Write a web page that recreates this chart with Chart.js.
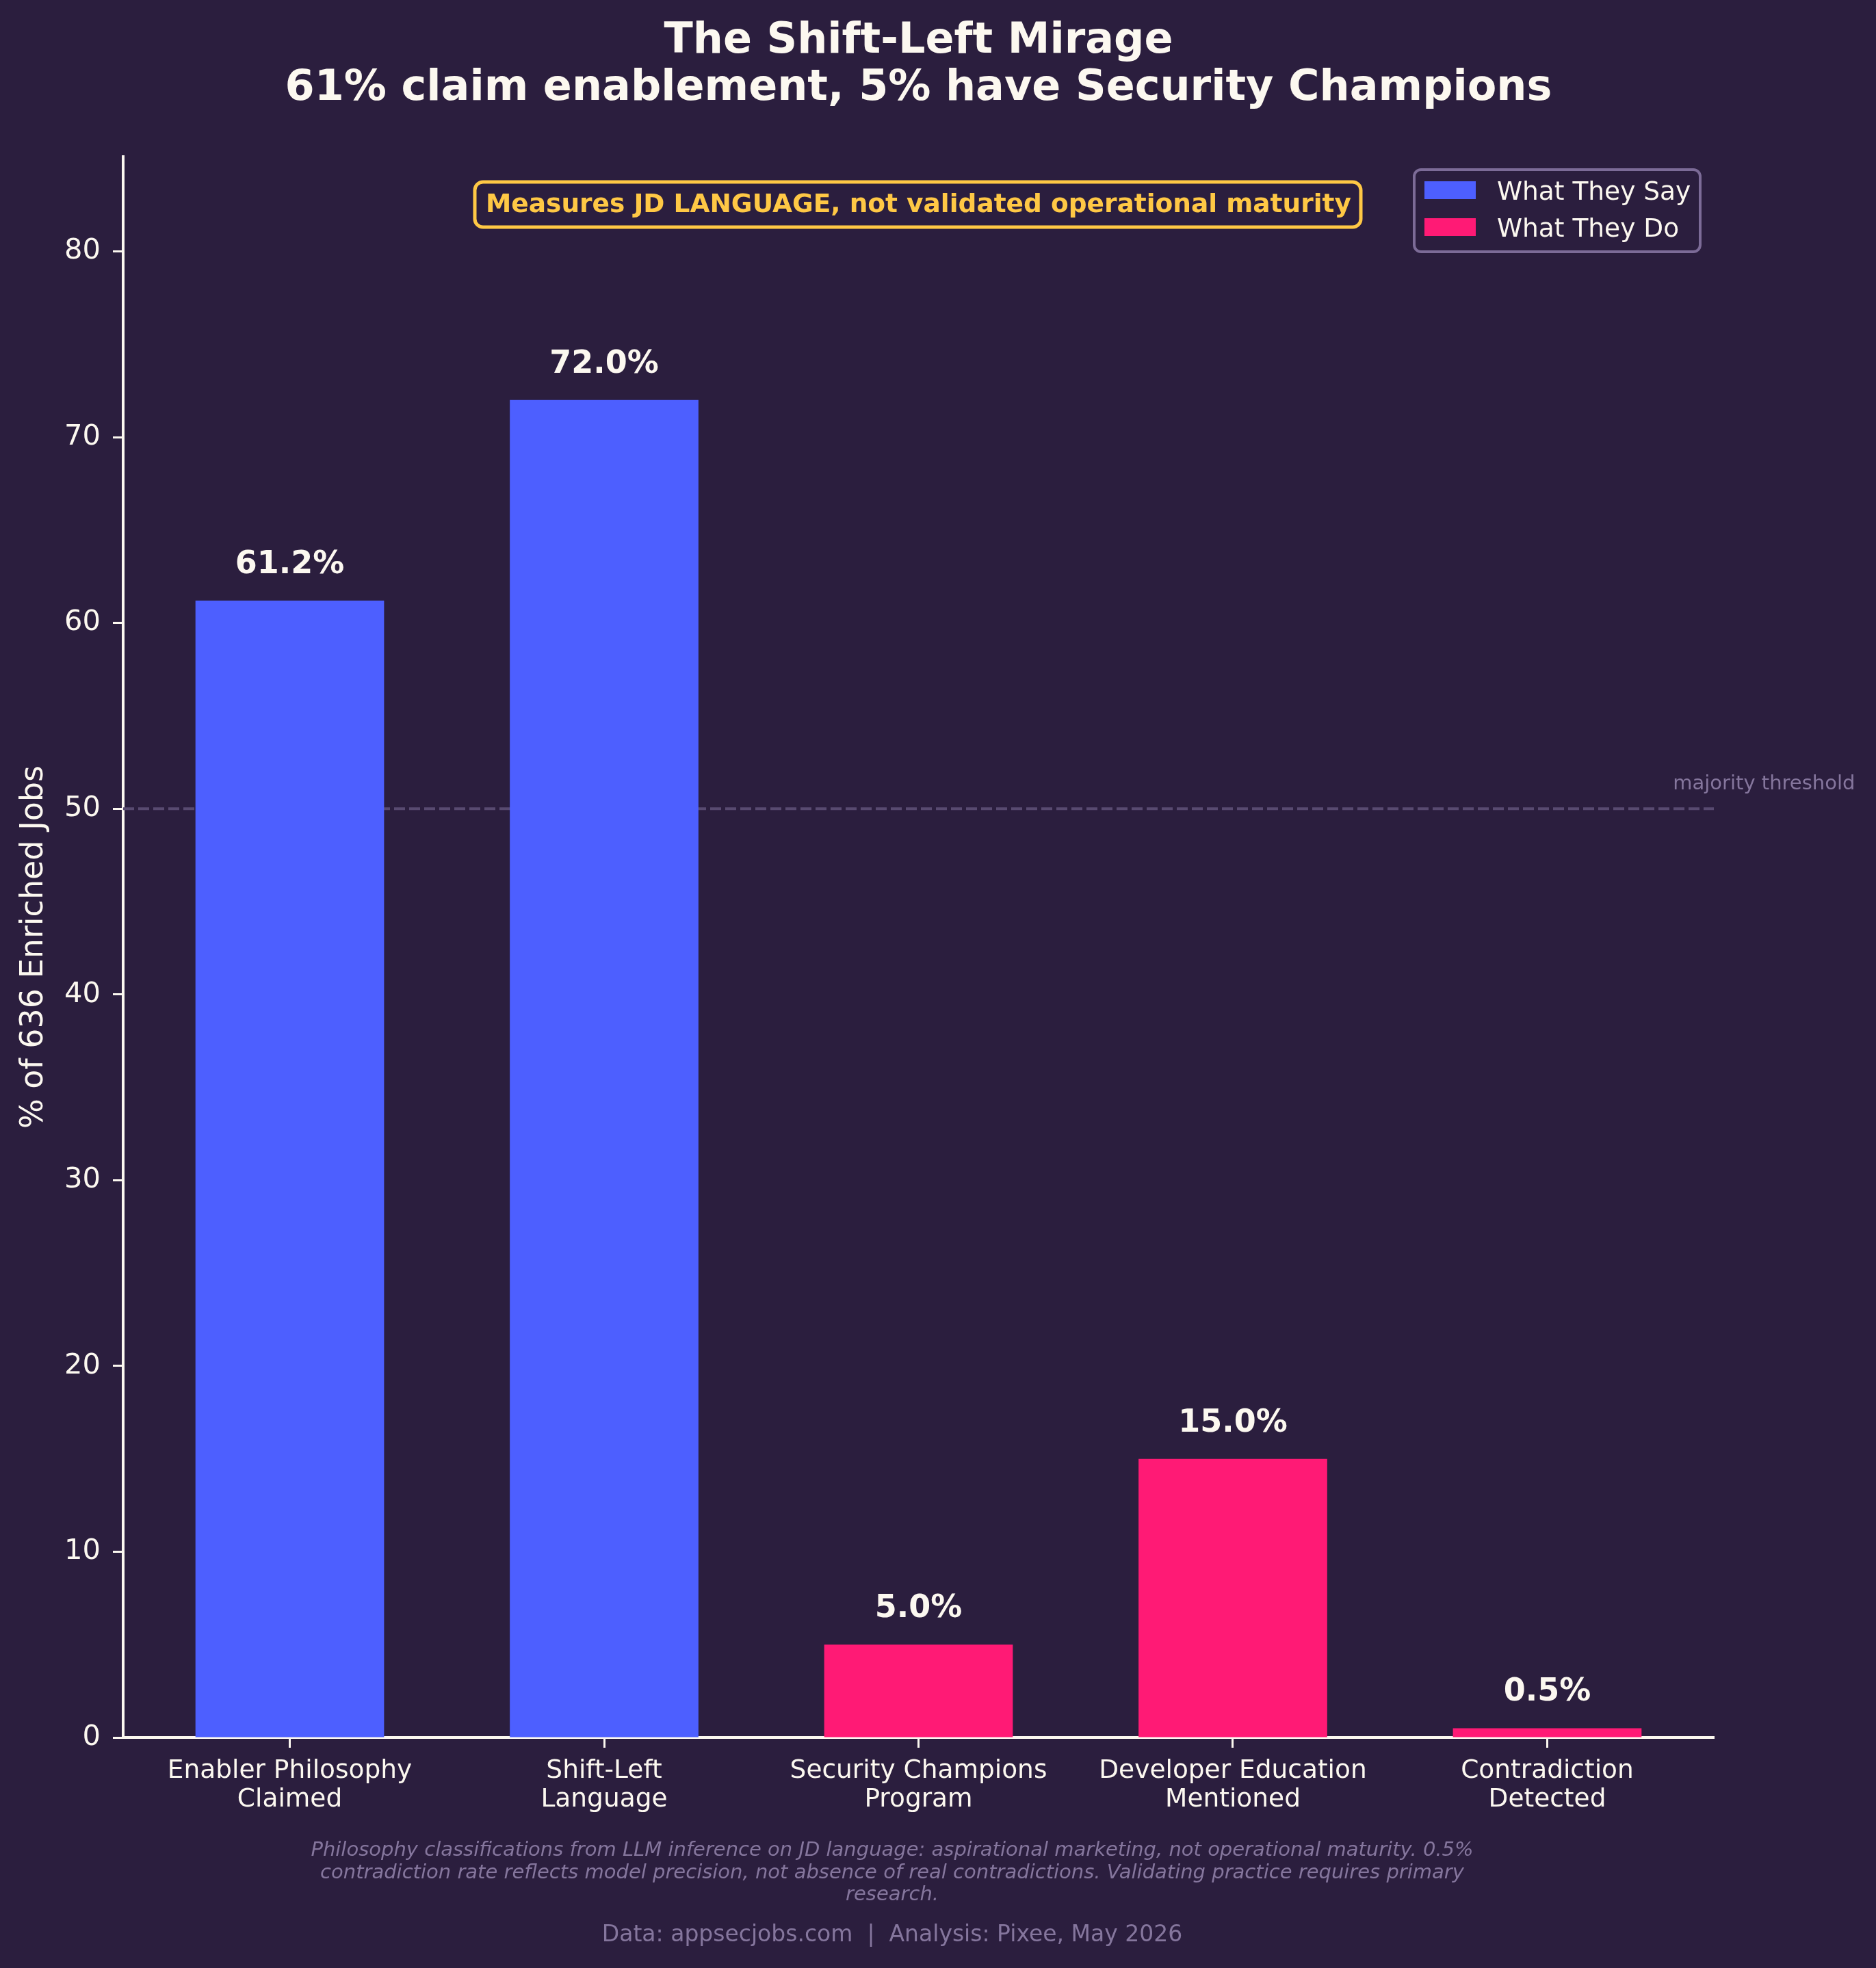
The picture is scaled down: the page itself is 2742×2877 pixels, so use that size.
<!DOCTYPE html>
<html>
<head>
<meta charset="utf-8">
<title>The Shift-Left Mirage</title>
<script src="https://cdn.jsdelivr.net/npm/chart.js@4.4.1/dist/chart.umd.min.js"></script>
<style>
  html, body { margin: 0; padding: 0; background: #2b1e3e; }
  #chart { display: block; }
</style>
</head>
<body>
<canvas id="chart" width="2742" height="2877" style="width:2742px;height:2877px"></canvas>
<script>
// data
const categories = [
    'Enabler Philosophy\nClaimed',
    'Shift-Left\nLanguage',
    'Security Champions\nProgram',
    'Developer Education\nMentioned',
    'Contradiction\nDetected'
];
const values = [61.2, 72.0, 5.0, 15.0, 0.5];
const groups = ['say', 'say', 'do', 'do', 'do'];
const seriesNames = { say: 'What They Say', do: 'What They Do' };
const threshold = 50;
const yMax = 85.1;

const BG = '#2b1e3e';
const INK = '#fcf8f0';
const MUTED = '#85769d';
const colors = { say: '#4d5fff', do: '#ff1a75' };
const FONT = "'DejaVu Sans', sans-serif";

function pointsFor(g) {
    const pts = [];
    values.forEach(function(v, i) {
        if (groups[i] === g) pts.push({ x: i, y: v });
    });
    return pts;
}

const datasets = ['say', 'do'].map(function(g) {
    return {
        label: seriesNames[g],
        data: pointsFor(g),
        backgroundColor: colors[g],
        borderWidth: 0,
        grouped: false,
        barPercentage: 0.6,
        categoryPercentage: 1.0
    };
});

const bgPlugin = {
    id: 'bg',
    beforeDraw(chart) {
        const ctx = chart.ctx;
        ctx.save();
        ctx.fillStyle = BG;
        ctx.fillRect(0, 0, chart.width, chart.height);
        ctx.restore();
    }
};

const thresholdPlugin = {
    id: 'threshold',
    beforeDatasetsDraw(chart) {
        const ctx = chart.ctx;
        const area = chart.chartArea;
        const y = chart.scales.y.getPixelForValue(threshold);
        ctx.save();
        ctx.strokeStyle = '#584a70';
        ctx.lineWidth = 4;
        ctx.setLineDash([16, 6]);
        ctx.beginPath();
        ctx.moveTo(area.left, y);
        ctx.lineTo(area.right, y);
        ctx.stroke();
        ctx.setLineDash([]);
        ctx.fillStyle = MUTED;
        ctx.font = '29px ' + FONT;
        ctx.textAlign = 'left';
        ctx.textBaseline = 'alphabetic';
        ctx.fillText('majority threshold', chart.scales.x.getPixelForValue(4.4), y - 28);
        ctx.restore();
    }
};

const labelsPlugin = {
    id: 'valueLabels',
    afterDatasetsDraw(chart) {
        const ctx = chart.ctx;
        ctx.save();
        ctx.fillStyle = INK;
        ctx.font = 'bold 46px ' + FONT;
        ctx.textAlign = 'center';
        ctx.textBaseline = 'alphabetic';
        chart.data.datasets.forEach(function(ds, di) {
            const meta = chart.getDatasetMeta(di);
            meta.data.forEach(function(bar, i) {
                ctx.fillText(ds.data[i].y.toFixed(1) + '%', bar.x, bar.y - 40);
            });
        });
        ctx.restore();
    }
};

const decorPlugin = {
    id: 'decor',
    afterDraw(chart) {
        const ctx = chart.ctx;
        const area = chart.chartArea;
        const cx = (area.left + area.right) / 2;
        ctx.save();

        // title
        ctx.fillStyle = INK;
        ctx.textAlign = 'center';
        ctx.textBaseline = 'alphabetic';
        ctx.font = 'bold 62px ' + FONT;
        ctx.fillText('The Shift-Left Mirage', cx, 77);
        ctx.fillText('61% claim enablement, 5% have Security Champions', cx, 146);

        // caveat box
        ctx.beginPath();
        ctx.roundRect(694, 266, 1295, 66, 12);
        ctx.fillStyle = BG;
        ctx.fill();
        ctx.lineWidth = 5;
        ctx.strokeStyle = '#ffc845';
        ctx.stroke();
        ctx.fillStyle = '#ffc845';
        ctx.font = 'bold 37.5px ' + FONT;
        ctx.fillText('Measures JD LANGUAGE, not validated operational maturity', cx, 310);

        // legend
        ctx.beginPath();
        ctx.roundRect(2067, 248, 418, 120, 10);
        ctx.fillStyle = BG;
        ctx.fill();
        ctx.lineWidth = 4;
        ctx.strokeStyle = '#7c6b97';
        ctx.stroke();
        ctx.textAlign = 'left';
        ctx.font = '37.5px ' + FONT;
        chart.data.datasets.forEach(function(ds, i) {
            const top = 265 + i * 54;
            ctx.fillStyle = ds.backgroundColor;
            ctx.fillRect(2082, top, 75, 26);
            ctx.fillStyle = INK;
            ctx.fillText(ds.label, 2188, top + 27);
        });

        // footnotes
        ctx.textAlign = 'center';
        ctx.fillStyle = MUTED;
        ctx.font = 'italic 29px ' + FONT;
        const notes = [
            'Philosophy classifications from LLM inference on JD language: aspirational marketing, not operational maturity. 0.5%',
            'contradiction rate reflects model precision, not absence of real contradictions. Validating practice requires primary',
            'research.'
        ];
        notes.forEach(function(t, i) {
            ctx.fillText(t, 1304, 2713 + i * 32.7);
        });
        ctx.font = '33px ' + FONT;
        ctx.fillText('Data: appsecjobs.com  |  Analysis: Pixee, May 2026', 1304, 2838);
        ctx.restore();
    }
};

const ctx = document.getElementById('chart').getContext('2d');
const chart = new Chart(ctx, {
    type: 'bar',
    data: { datasets: datasets },
    options: {
        responsive: false,
        devicePixelRatio: 1,
        animation: false,
        layout: { padding: { top: 229, right: 237, left: 0, bottom: 0 } },
        plugins: {
            legend: { display: false },
            tooltip: { enabled: false },
            title: { display: false }
        },
        scales: {
            x: {
                type: 'linear',
                min: -0.53,
                max: 4.53,
                offset: false,
                afterFit(scale) { scale.height = 337; },
                border: { display: true, color: INK, width: 4 },
                grid: {
                    display: true,
                    offset: false,
                    drawOnChartArea: false,
                    drawTicks: true,
                    tickLength: 15,
                    tickWidth: 3,
                    tickColor: INK
                },
                ticks: {
                    stepSize: 1,
                    includeBounds: false,
                    autoSkip: false,
                    maxRotation: 0,
                    minRotation: 0,
                    padding: 13,
                    color: INK,
                    font: { family: FONT, size: 37.5, lineHeight: 1.12 },
                    callback: function(v) {
                        const c = categories[v];
                        return c ? c.split('\n') : '';
                    }
                }
            },
            y: {
                min: 0,
                max: yMax,
                afterFit(scale) { scale.width = 180; },
                border: { display: true, color: INK, width: 4 },
                grid: {
                    display: true,
                    drawOnChartArea: false,
                    drawTicks: true,
                    tickLength: 15,
                    tickWidth: 3,
                    tickColor: INK
                },
                ticks: {
                    stepSize: 10,
                    includeBounds: false,
                    padding: 18,
                    color: INK,
                    font: { family: FONT, size: 41.7 }
                },
                title: {
                    display: true,
                    text: '% of 636 Enriched Jobs',
                    color: INK,
                    font: { family: FONT, size: 46 },
                    padding: { top: 22, bottom: 0 }
                }
            }
        }
    },
    plugins: [bgPlugin, thresholdPlugin, labelsPlugin, decorPlugin]
});
</script>
</body>
</html>
